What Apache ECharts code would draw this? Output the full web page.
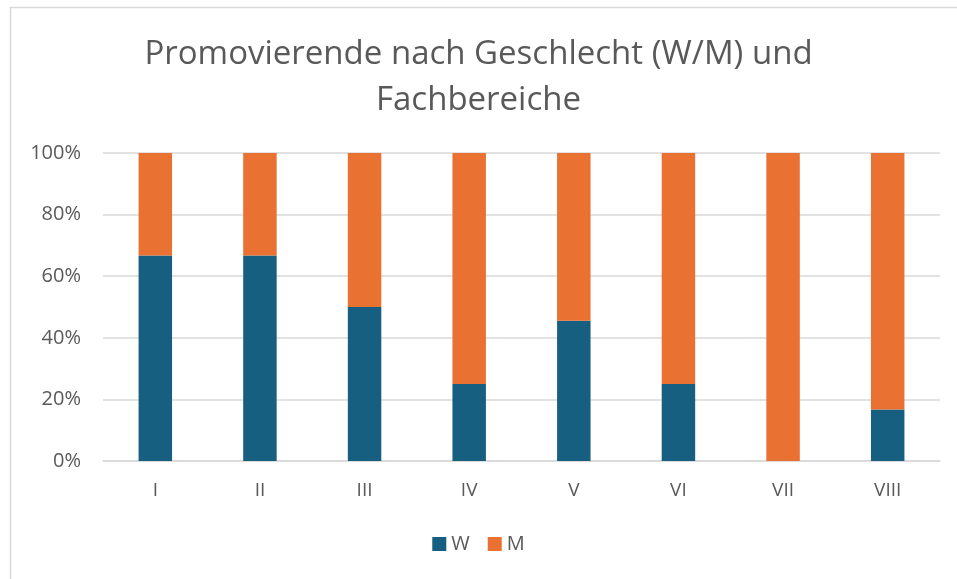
<!DOCTYPE html>
<html><head><meta charset="utf-8">
<script src="https://cdn.jsdelivr.net/npm/echarts@6/dist/echarts.min.js"></script>
<style>html,body{margin:0;padding:0;background:#fff}#c{width:957px;height:579px}</style>
</head><body><div id="c"></div>
<script>
const categories = ['I','II','III','IV','V','VI','VII','VIII'];
const seriesW = [66.7, 66.7, 50, 25, 45.5, 25, 0, 16.7];
const seriesM = [33.3, 33.3, 50, 75, 54.5, 75, 100, 83.3];
const yTicks = [0, 20, 40, 60, 80, 100];
const titleText = 'Promovierende nach Geschlecht (W/M) und\nFachbereiche';

const chart = echarts.init(document.getElementById('c'), null, {renderer:'canvas'});
const font = 'Open Sans';
chart.setOption({
  animation:false,
  backgroundColor:'#fff',
  graphic:[{type:'rect',shape:{x:10.5,y:7.5,width:960,height:600},style:{fill:'none',stroke:'#d9d9d9',lineWidth:1.5},silent:true}],
  title:{text:titleText,left:'center',top:27,textStyle:{fontFamily:font,fontSize:33,fontWeight:'normal',color:'#595959',lineHeight:46}},
  legend:{bottom:20,left:'center',itemWidth:14,itemHeight:14,itemGap:18,icon:'rect',textStyle:{fontFamily:font,fontSize:20,color:'#595959'},data:['W','M']},
  grid:{left:103,right:17,top:153,bottom:118},
  xAxis:{type:'category',data:categories,axisTick:{show:false},axisLine:{lineStyle:{color:'#d9d9d9',width:1.5}},axisLabel:{fontFamily:font,fontSize:19,color:'#595959',margin:20}},
  yAxis:{type:'value',min:yTicks[0],max:yTicks[yTicks.length-1],interval:20,axisLabel:{formatter:'{value}%',fontFamily:font,fontSize:20,color:'#595959',margin:22},splitLine:{lineStyle:{color:'#d9d9d9',width:1.5}},axisLine:{show:false},axisTick:{show:false}},
  series:[
    {name:'W',type:'bar',stack:'a',data:seriesW,barWidth:'32%',itemStyle:{color:'#175f80'}},
    {name:'M',type:'bar',stack:'a',data:seriesM,barWidth:'32%',itemStyle:{color:'#e97132'}}
  ]
});
</script></body></html>
